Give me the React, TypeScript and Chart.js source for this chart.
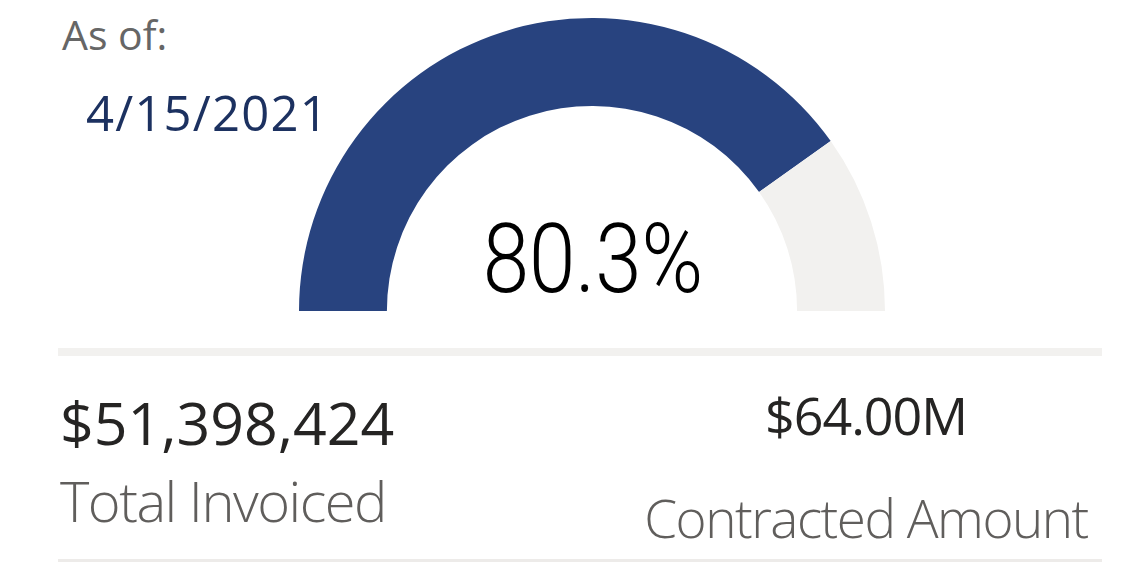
import React, { useEffect, useRef } from "react";
import { Chart, registerables } from "chart.js";

Chart.register(...registerables);

const gaugeLabels = ["Total Invoiced", "Remaining"];
const totalInvoiced = 51398424;
const contractedAmount = 64000000;
const gaugeValues = [totalInvoiced, contractedAmount - totalInvoiced];
const gaugeColors = ["#28437F", "#F2F1EF"];
const asOfLabel = "As of:";
const asOfDate = "4/15/2021";
const percentText = ((totalInvoiced / contractedAmount) * 100).toFixed(1) + "%";
const invoicedText = "$" + totalInvoiced.toLocaleString("en-US");
const contractedText = "$" + (contractedAmount / 1e6).toFixed(2) + "M";

const SEG = "'Open Sans', 'Noto Sans', sans-serif";

function Txt(props: {
  text: string;
  x: number;
  baseline: number;
  fs: number;
  color: string;
  weight?: number;
  align?: "left" | "center";
  family?: string;
  asc?: number;
  scaleX?: number;
  ls?: number;
}) {
  const asc = props.asc ?? 0.888;
  const top = props.baseline - asc * props.fs;
  const center = props.align === "center";
  return (
    <div
      style={{
        position: "absolute",
        left: center ? props.x - 400 : props.x,
        width: center ? 800 : undefined,
        top,
        fontSize: props.fs,
        lineHeight: props.fs + "px",
        height: props.fs,
        fontFamily: props.family ?? SEG,
        fontWeight: props.weight ?? 400,
        color: props.color,
        whiteSpace: "nowrap",
        textAlign: center ? "center" : "left",
        letterSpacing: props.ls ? props.ls + "px" : undefined,
        transform: props.scaleX ? `scaleX(${props.scaleX})` : undefined,
        transformOrigin: center ? "50% 50%" : "0 50%",
      }}
    >
      {props.text}
    </div>
  );
}

export default function App() {
  const canvasRef = useRef<HTMLCanvasElement | null>(null);

  useEffect(() => {
    const ctx = canvasRef.current;
    if (!ctx) return;
    const chart = new Chart(ctx, {
      type: "doughnut",
      data: {
        labels: gaugeLabels,
        datasets: [
          {
            data: gaugeValues,
            backgroundColor: gaugeColors,
            hoverBackgroundColor: gaugeColors,
            borderWidth: 0,
          },
        ],
      },
      options: {
        responsive: false,
        animation: false,
        rotation: -90,
        circumference: 180,
        cutout: "70%",
        layout: { padding: 0 },
        events: [],
        plugins: {
          legend: { display: false },
          tooltip: { enabled: false },
        },
      },
    });
    return () => chart.destroy();
  }, []);

  return (
    <div
      style={{
        position: "fixed",
        left: 0,
        top: 0,
        width: 1128,
        height: 562,
        background: "#ffffff",
        overflow: "hidden",
      }}
    >
      <canvas
        ref={canvasRef}
        width={586}
        height={293}
        style={{ position: "absolute", left: 299, top: 18, width: 586, height: 293 }}
      />
      <Txt text={asOfLabel} x={62} baseline={50} fs={41} color="#666666" />
      <Txt text={asOfDate} x={86} baseline={132} fs={49} color="#1C3160" ls={1.2} />
      <Txt
        text={percentText}
        x={593}
        baseline={293}
        fs={97}
        color="#000000"
        weight={300}
        align="center"
        family="Roboto, sans-serif"
        asc={0.842}
        scaleX={0.86}
      />
      <div style={{ position: "absolute", left: 58, top: 348, width: 1044, height: 8, background: "#F2F1EF" }} />
      <Txt text={invoicedText} x={60} baseline={445} fs={59} color="#252423" />
      <Txt text="Total Invoiced" x={60} baseline={522} fs={56} color="#605E5C" weight={300} ls={-1.5} />
      <Txt text={contractedText} x={866} baseline={435} fs={52} color="#252423" align="center" ls={-1} />
      <Txt text="Contracted Amount" x={866} baseline={538} fs={53} color="#605E5C" weight={300} align="center" ls={-1.5} />
      <div style={{ position: "absolute", left: 58, top: 559, width: 1044, height: 3, background: "#EDEBE9" }} />
    </div>
  );
}
